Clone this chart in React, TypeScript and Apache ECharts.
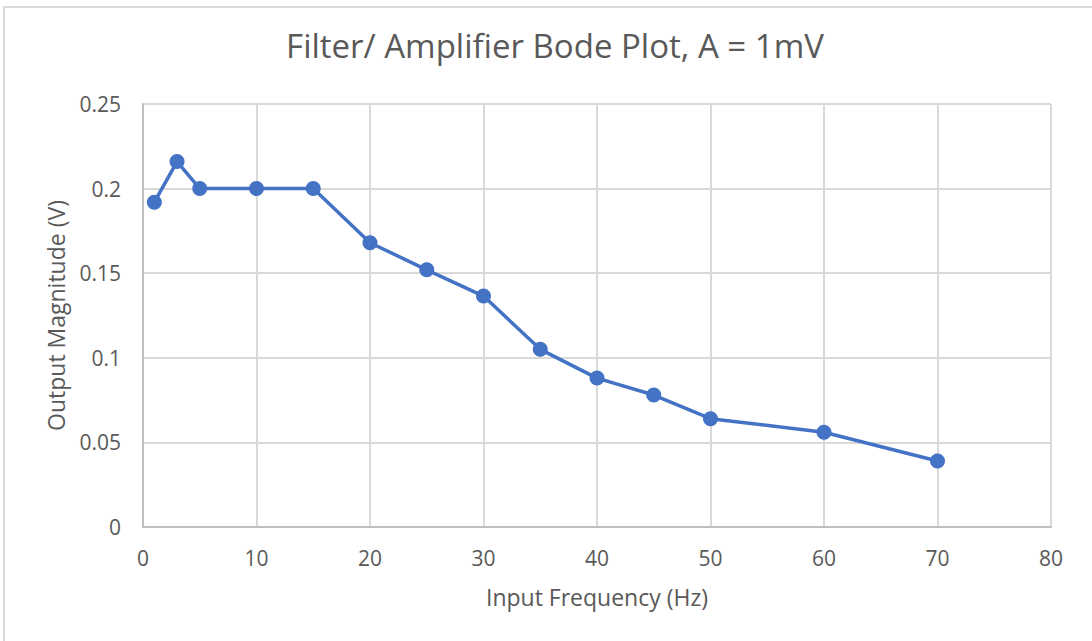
import React, { useEffect, useRef } from "react";
import * as echarts from "echarts";

const frequencies = [1, 3, 5, 10, 15, 20, 25, 30, 35, 40, 45, 50, 60, 70];
const magnitudes = [0.192, 0.216, 0.2, 0.2, 0.2, 0.168, 0.152, 0.1365, 0.105, 0.088, 0.078, 0.064, 0.056, 0.039];

const titleText = "Filter/ Amplifier Bode Plot, A = 1mV";
const xName = "Input Frequency (Hz)";
const yName = "Output Magnitude (V)";

export default function App() {
  const ref = useRef<HTMLDivElement>(null);
  useEffect(() => {
    document.body.style.margin = "0";
    const chart = echarts.init(ref.current!, null, { renderer: "svg" });
    const font = "'Open Sans', 'Liberation Sans', sans-serif";
    chart.setOption({
      animation: false,
      backgroundColor: "#ffffff",
      textStyle: { fontFamily: font },
      title: {
        text: titleText,
        left: 550,
        top: 24,
        textAlign: "center",
        textStyle: { fontSize: 33, fontWeight: "normal", color: "#595959", fontFamily: font },
      },
      graphic: [
        {
          type: "rect",
          shape: { x: 4, y: 7, width: 1200, height: 800 },
          style: { fill: "none", stroke: "#d9d9d9", lineWidth: 2 },
          silent: true,
        },
      ],
      grid: { left: 143, right: 41, top: 104, bottom: 114, containLabel: false },
      xAxis: {
        type: "value",
        min: 0,
        max: 80,
        interval: 10,
        name: xName,
        nameLocation: "middle",
        nameGap: 58,
        nameTextStyle: { fontSize: 23, color: "#595959", fontFamily: font },
        axisLine: { show: true, lineStyle: { color: "#bfbfbf", width: 2 } },
        axisTick: { show: false },
        axisLabel: { fontSize: 21, color: "#595959", margin: 20, fontFamily: font },
        splitLine: { show: true, lineStyle: { color: "#d9d9d9", width: 2 } },
      },
      yAxis: {
        type: "value",
        min: 0,
        max: 0.25,
        interval: 0.05,
        name: yName,
        nameLocation: "middle",
        nameGap: 76,
        nameTextStyle: { fontSize: 23, color: "#595959", fontFamily: font },
        axisLine: { show: true, lineStyle: { color: "#bfbfbf", width: 2 } },
        axisTick: { show: false },
        axisLabel: { fontSize: 21, color: "#595959", margin: 22, fontFamily: font },
        splitLine: { show: true, lineStyle: { color: "#d9d9d9", width: 2 } },
      },
      series: [
        {
          type: "line",
          data: frequencies.map((f, i) => [f, magnitudes[i]]),
          symbol: "circle",
          symbolSize: 15,
          lineStyle: { color: "#4472C4", width: 3.5 },
          itemStyle: { color: "#4472C4" },
        },
      ],
    });
    return () => chart.dispose();
  }, []);
  return <div ref={ref} style={{ width: 1092, height: 641 }} />;
}
